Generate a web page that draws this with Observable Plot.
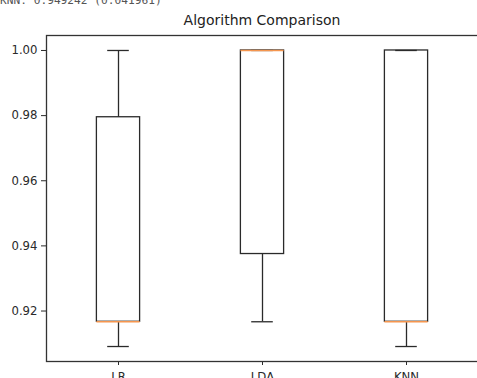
<!DOCTYPE html>
<html>
<head>
<meta charset="utf-8">
<script src="https://cdn.jsdelivr.net/npm/d3@7"></script>
<script src="https://cdn.jsdelivr.net/npm/@observablehq/plot@0.6"></script>
<style>
  html, body { margin: 0; padding: 0; background: white; overflow: hidden; }
  #chart svg { display: block; }
</style>
</head>
<body>
<div id="chart"></div>
<script>
const categories = ["LR", "LDA", "KNN"];
const positions = [1, 2, 3];
const whiskerLow = [0.9091, 0.9167, 0.9091];
const q1 = [0.9167, 0.9375, 0.9167];
const median = [0.9167, 1.0, 0.9167];
const q3 = [0.9795, 1.0, 1.0];
const whiskerHigh = [1.0, 1.0, 1.0];
const yTicks = [0.92, 0.94, 0.96, 0.98, 1.00];
const title = "Algorithm Comparison";
const consoleLine = "KNN: 0.949242 (0.041961)";

const boxHalf = 0.15;
const capHalf = 0.075;

const rows = categories.map((c, i) => ({
  name: c, pos: positions[i], lo: whiskerLow[i], q1: q1[i],
  med: median[i], q3: q3[i], hi: whiskerHigh[i]
}));

const lineColor = "#2a2a2a";
const medianColor = "#f5964f";

const chart = Plot.plot({
  width: 477,
  height: 378,
  marginLeft: 46,
  marginRight: -1,
  marginTop: 35,
  marginBottom: 17,
  style: { fontFamily: "DejaVu Sans", fontSize: "11.7px", color: "#2a2a2a", background: "white" },
  x: {
    domain: [0.5, 3.5],
    ticks: positions,
    tickFormat: d => categories[d - 1],
    tickSize: 4,
    tickPadding: 7,
    label: null
  },
  y: {
    domain: [0.9045, 1.0046],
    ticks: yTicks,
    tickFormat: d3.format(".2f"),
    tickSize: 5,
    tickPadding: 4,
    label: null
  },
  marks: [
    Plot.frame({ stroke: "#333", strokeWidth: 1.3 }),
    Plot.rect(rows, { x1: d => d.pos - boxHalf, x2: d => d.pos + boxHalf, y1: "q1", y2: "q3", fill: "none", stroke: lineColor, strokeWidth: 1.3 }),
    Plot.ruleX(rows, { x: "pos", y1: "lo", y2: "q1", stroke: lineColor, strokeWidth: 1.3 }),
    Plot.ruleX(rows, { x: "pos", y1: "q3", y2: "hi", stroke: lineColor, strokeWidth: 1.3 }),
    Plot.ruleY(rows, { y: "lo", x1: d => d.pos - capHalf, x2: d => d.pos + capHalf, stroke: lineColor, strokeWidth: 1.3 }),
    Plot.ruleY(rows, { y: "hi", x1: d => d.pos - capHalf, x2: d => d.pos + capHalf, stroke: lineColor, strokeWidth: 1.3 }),
    Plot.ruleY(rows, { y: "med", x1: d => d.pos - boxHalf, x2: d => d.pos + boxHalf, stroke: medianColor, strokeWidth: 1.4 })
  ]
});

document.getElementById("chart").appendChild(chart);

const svg = d3.select(chart);
const xr = chart.scale("x").range;
svg.append("text")
  .attr("x", (xr[0] + xr[1]) / 2)
  .attr("y", 24.7)
  .attr("text-anchor", "middle")
  .attr("font-family", "DejaVu Sans")
  .attr("font-size", "14px")
  .attr("fill", "#222")
  .text(title);

svg.append("text")
  .attr("x", 0)
  .attr("y", 4)
  .attr("text-anchor", "start")
  .attr("font-family", "DejaVu Sans Mono")
  .attr("font-size", "11.2px")
  .attr("fill", "#555")
  .text(consoleLine);
</script>
</body>
</html>
